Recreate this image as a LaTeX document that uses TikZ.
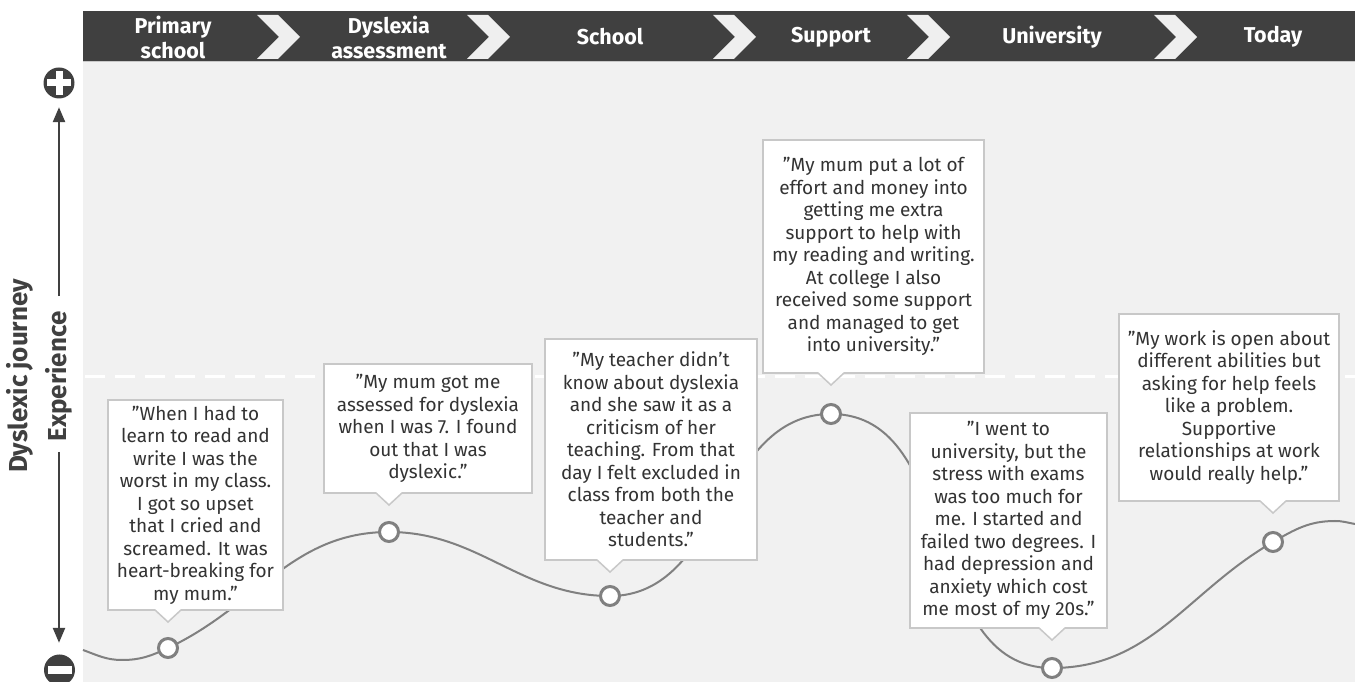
\documentclass[tikz,border=0pt]{standalone}
\usepackage{fontspec}
\setmainfont{Fira Sans}
\usetikzlibrary{arrows.meta}

\definecolor{hdr}{HTML}{404040}
\definecolor{chevron}{HTML}{EFEFEF}
\definecolor{plotbg}{HTML}{F1F1F1}
\definecolor{boxline}{HTML}{C8C8C8}
\definecolor{txt}{HTML}{333333}
\definecolor{curvec}{HTML}{808080}

% pointer under a quote box, down to the ring below it
\newcommand{\boxtail}[2]{%
  \fill[white] ([xshift=-13pt,yshift=0.8pt]#2 |- #1.south) -- ([yshift=-12pt]#2 |- #1.south) -- ([xshift=13pt,yshift=0.8pt]#2 |- #1.south) -- cycle;
  \draw[boxline, line width=1.5pt] ([xshift=-13pt]#2 |- #1.south) -- ([yshift=-12pt]#2 |- #1.south) -- ([xshift=13pt]#2 |- #1.south);}

\begin{document}
\begin{tikzpicture}[x=1pt,y=1pt,
    saybox/.style={draw=boxline, line width=1.5pt, fill=white, align=center, text=txt, inner sep=2pt, outer sep=0pt, font=\fontsize{19}{22.5}\selectfont},
    ring/.style={circle, draw=curvec, line width=3pt, fill=white, minimum size=19pt, inner sep=0pt},
    stage/.style={text=white, align=center, font=\bfseries\fontsize{21.5}{25}\selectfont},
    axislabel/.style={text=hdr, font=\bfseries\fontsize{26}{30}\selectfont, rotate=90, inner sep=0pt},
    >={Triangle[width=12pt,length=15pt]}]
    \useasboundingbox (0,0) rectangle (1355,682);

    % plot area and header bar
    \fill[plotbg] (83,0) rectangle (1355,620);
    \fill[hdr] (83,620) rectangle (1355,671);
    \draw[boxline, line width=1pt] (83,620) -- (1355,620);

    \fill[chevron] (257,667) -- ++(21,0) -- ++(22,-22) -- ++(-22,-22) -- ++(-21,0) -- ++(22,22) -- cycle;
    \fill[chevron] (467,667) -- ++(21,0) -- ++(22,-22) -- ++(-22,-22) -- ++(-21,0) -- ++(22,22) -- cycle;
    \fill[chevron] (713,667) -- ++(21,0) -- ++(22,-22) -- ++(-22,-22) -- ++(-21,0) -- ++(22,22) -- cycle;
    \fill[chevron] (907,667) -- ++(21,0) -- ++(22,-22) -- ++(-22,-22) -- ++(-21,0) -- ++(22,22) -- cycle;
    \fill[chevron] (1154,667) -- ++(21,0) -- ++(22,-22) -- ++(-22,-22) -- ++(-21,0) -- ++(22,22) -- cycle;

    \node[stage] (primary) at (173,645) {Primary\\school};
    \node[stage] (assess) at (389,645) {Dyslexia\\assessment};
    \node[stage] (school) at (610,645) {School};
    \node[stage] (support) at (831,645) {Support};
    \node[stage] (uni) at (1052,645) {University};
    \node[stage] (today) at (1273,645) {Today};

    % neutral line
    \draw[white, line width=3pt, dash pattern=on 20pt off 10pt] (85,305) -- (1355,305);

    % experience axis
    \node[circle, fill=hdr, minimum size=31pt, inner sep=0pt] (plus) at (59,599) {};
    \fill[white] ([shift={(-12,-3.5)}]plus.center) rectangle ++(24,7);
    \fill[white] ([shift={(-3.5,-12)}]plus.center) rectangle ++(7,24);
    \node[circle, fill=hdr, minimum size=31pt, inner sep=0pt] (minus) at (59.5,12) {};
    \fill[white] ([shift={(-12,-4)}]minus.center) rectangle ++(24,8);

    \node[axislabel] (journey) at (20,306) {Dyslexic journey};
    \node[axislabel] (exp) at (59,305.5) {Experience};
    \draw[hdr, line width=2.5pt, ->, shorten <=15pt, shorten >=8.5pt] (exp.east) -- (exp.east |- plus.south);
    \draw[hdr, line width=2.5pt, ->, shorten <=10pt, shorten >=11.5pt] (exp.west) -- (exp.west |- minus.north);

    % journey curve
    \coordinate (s0) at (83,32);
    \coordinate (m0) at (122,22);
    \coordinate (p1) at (168,34);
    \coordinate (p2) at (389,150);
    \coordinate (p3) at (610,86);
    \coordinate (p4) at (831,268);
    \coordinate (p5) at (1052,14);
    \coordinate (p6) at (1273,140);
    \coordinate (pk) at (1335,161);
    \coordinate (e) at (1355,158);
    \draw[curvec, line width=2pt] (s0) to[out=-20,in=180] (m0) to[out=0,in=205] (p1) to[out=25,in=180] (p2)
        to[out=0,in=180] (p3) to[out=0,in=180] (p4) to[out=0,in=180] (p5)
        to[out=0,in=210] (p6) to[out=30,in=180] (pk) to[out=0,in=170] (e);

    \node[ring] (c1) at (p1) {};
    \node[ring] (c2) at (p2) {};
    \node[ring] (c3) at (p3) {};
    \node[ring] (c4) at (p4) {};
    \node[ring] (c5) at (p5) {};
    \node[ring] (c6) at (p6) {};

    % quotes
    \node[saybox, minimum width=175pt, minimum height=210pt] (q1) at (195.5,177) {"When I had to\\learn to read and\\write I was the\\worst in my class.\\I got so upset\\that I cried and\\screamed. It was\\heart-breaking for\\my mum."};
    \node[saybox, minimum width=208pt, minimum height=129pt] (q2) at (428,253.5) {"My mum got me\\assessed for dyslexia\\when I was 7. I found\\out that I was\\dyslexic."};
    \node[saybox, minimum width=212pt, minimum height=221pt] (q3) at (651,232.5) {"My teacher didn’t\\know about dyslexia\\and she saw it as a\\criticism of her\\teaching. From that\\day I felt excluded in\\class from both the\\teacher and\\students."};
    \node[saybox, minimum width=221pt, minimum height=233pt] (q4) at (873.5,425.5) {"My mum put a lot of\\effort and money into\\getting me extra\\support to help with\\my reading and writing.\\At college I also\\received some support\\and managed to get\\into university."};
    \node[saybox, minimum width=197pt, minimum height=215pt] (q5) at (1008.5,161.5) {"I went to\\university, but the\\stress with exams\\was too much for\\me. I started and\\failed two degrees. I\\had depression and\\anxiety which cost\\me most of my 20s."};
    \node[saybox, minimum width=220pt, minimum height=187pt] (q6) at (1229,274.5) {"My work is open about\\different abilities but\\asking for help feels\\like a problem.\\Supportive\\relationships at work\\would really help."};

    \boxtail{q1}{c1}
    \boxtail{q2}{c2}
    \boxtail{q3}{c3}
    \boxtail{q4}{c4}
    \boxtail{q5}{c5}
    \boxtail{q6}{c6}

\end{tikzpicture}
\end{document}
